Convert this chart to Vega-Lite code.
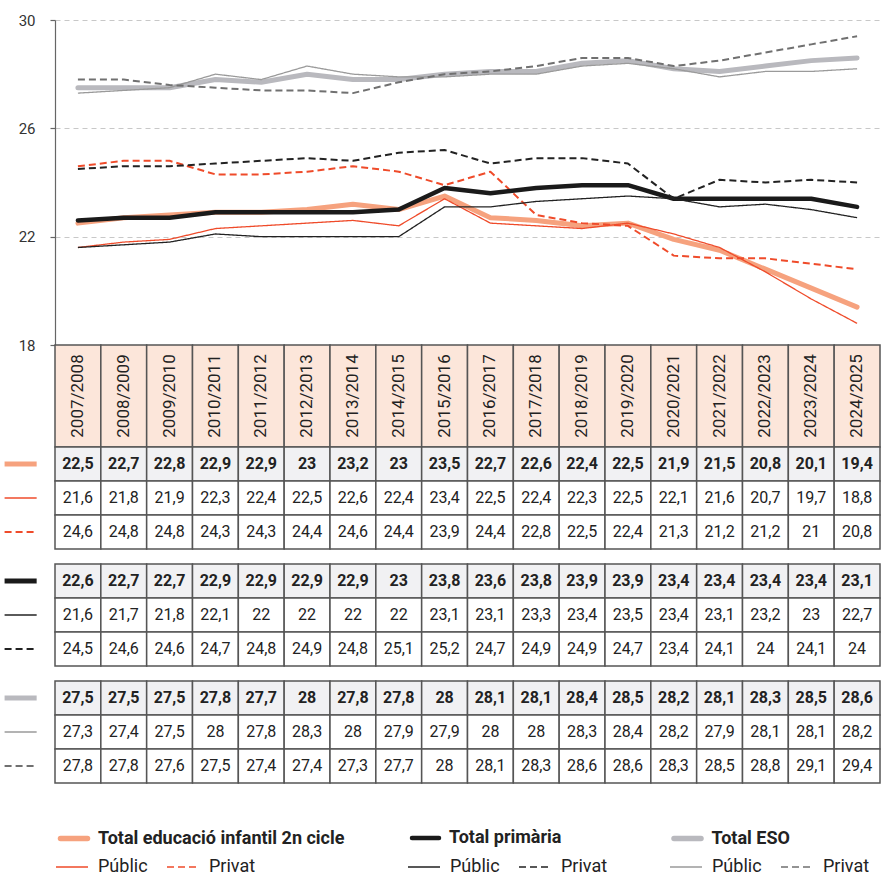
{
  "$schema": "https://vega.github.io/schema/vega-lite/v6.json",
  "padding": {"left": 2, "top": 13, "right": 0, "bottom": 0},
  "background": "white",
  "datasets": {
    "cursos": [
      {"curs": "2007/2008", "inici": 2007, "fi": 2008, "inf_t": 22.5, "inf_pu": 21.6, "inf_pr": 24.6, "pri_t": 22.6, "pri_pu": 21.6, "pri_pr": 24.5, "eso_t": 27.5, "eso_pu": 27.3, "eso_pr": 27.8},
      {"curs": "2008/2009", "inici": 2008, "fi": 2009, "inf_t": 22.7, "inf_pu": 21.8, "inf_pr": 24.8, "pri_t": 22.7, "pri_pu": 21.7, "pri_pr": 24.6, "eso_t": 27.5, "eso_pu": 27.4, "eso_pr": 27.8},
      {"curs": "2009/2010", "inici": 2009, "fi": 2010, "inf_t": 22.8, "inf_pu": 21.9, "inf_pr": 24.8, "pri_t": 22.7, "pri_pu": 21.8, "pri_pr": 24.6, "eso_t": 27.5, "eso_pu": 27.5, "eso_pr": 27.6},
      {"curs": "2010/2011", "inici": 2010, "fi": 2011, "inf_t": 22.9, "inf_pu": 22.3, "inf_pr": 24.3, "pri_t": 22.9, "pri_pu": 22.1, "pri_pr": 24.7, "eso_t": 27.8, "eso_pu": 28, "eso_pr": 27.5},
      {"curs": "2011/2012", "inici": 2011, "fi": 2012, "inf_t": 22.9, "inf_pu": 22.4, "inf_pr": 24.3, "pri_t": 22.9, "pri_pu": 22, "pri_pr": 24.8, "eso_t": 27.7, "eso_pu": 27.8, "eso_pr": 27.4},
      {"curs": "2012/2013", "inici": 2012, "fi": 2013, "inf_t": 23, "inf_pu": 22.5, "inf_pr": 24.4, "pri_t": 22.9, "pri_pu": 22, "pri_pr": 24.9, "eso_t": 28, "eso_pu": 28.3, "eso_pr": 27.4},
      {"curs": "2013/2014", "inici": 2013, "fi": 2014, "inf_t": 23.2, "inf_pu": 22.6, "inf_pr": 24.6, "pri_t": 22.9, "pri_pu": 22, "pri_pr": 24.8, "eso_t": 27.8, "eso_pu": 28, "eso_pr": 27.3},
      {"curs": "2014/2015", "inici": 2014, "fi": 2015, "inf_t": 23, "inf_pu": 22.4, "inf_pr": 24.4, "pri_t": 23, "pri_pu": 22, "pri_pr": 25.1, "eso_t": 27.8, "eso_pu": 27.9, "eso_pr": 27.7},
      {"curs": "2015/2016", "inici": 2015, "fi": 2016, "inf_t": 23.5, "inf_pu": 23.4, "inf_pr": 23.9, "pri_t": 23.8, "pri_pu": 23.1, "pri_pr": 25.2, "eso_t": 28, "eso_pu": 27.9, "eso_pr": 28},
      {"curs": "2016/2017", "inici": 2016, "fi": 2017, "inf_t": 22.7, "inf_pu": 22.5, "inf_pr": 24.4, "pri_t": 23.6, "pri_pu": 23.1, "pri_pr": 24.7, "eso_t": 28.1, "eso_pu": 28, "eso_pr": 28.1},
      {"curs": "2017/2018", "inici": 2017, "fi": 2018, "inf_t": 22.6, "inf_pu": 22.4, "inf_pr": 22.8, "pri_t": 23.8, "pri_pu": 23.3, "pri_pr": 24.9, "eso_t": 28.1, "eso_pu": 28, "eso_pr": 28.3},
      {"curs": "2018/2019", "inici": 2018, "fi": 2019, "inf_t": 22.4, "inf_pu": 22.3, "inf_pr": 22.5, "pri_t": 23.9, "pri_pu": 23.4, "pri_pr": 24.9, "eso_t": 28.4, "eso_pu": 28.3, "eso_pr": 28.6},
      {"curs": "2019/2020", "inici": 2019, "fi": 2020, "inf_t": 22.5, "inf_pu": 22.5, "inf_pr": 22.4, "pri_t": 23.9, "pri_pu": 23.5, "pri_pr": 24.7, "eso_t": 28.5, "eso_pu": 28.4, "eso_pr": 28.6},
      {"curs": "2020/2021", "inici": 2020, "fi": 2021, "inf_t": 21.9, "inf_pu": 22.1, "inf_pr": 21.3, "pri_t": 23.4, "pri_pu": 23.4, "pri_pr": 23.4, "eso_t": 28.2, "eso_pu": 28.2, "eso_pr": 28.3},
      {"curs": "2021/2022", "inici": 2021, "fi": 2022, "inf_t": 21.5, "inf_pu": 21.6, "inf_pr": 21.2, "pri_t": 23.4, "pri_pu": 23.1, "pri_pr": 24.1, "eso_t": 28.1, "eso_pu": 27.9, "eso_pr": 28.5},
      {"curs": "2022/2023", "inici": 2022, "fi": 2023, "inf_t": 20.8, "inf_pu": 20.7, "inf_pr": 21.2, "pri_t": 23.4, "pri_pu": 23.2, "pri_pr": 24, "eso_t": 28.3, "eso_pu": 28.1, "eso_pr": 28.8},
      {"curs": "2023/2024", "inici": 2023, "fi": 2024, "inf_t": 20.1, "inf_pu": 19.7, "inf_pr": 21, "pri_t": 23.4, "pri_pu": 23, "pri_pr": 24.1, "eso_t": 28.5, "eso_pu": 28.1, "eso_pr": 29.1},
      {"curs": "2024/2025", "inici": 2024, "fi": 2025, "inf_t": 19.4, "inf_pu": 18.8, "inf_pr": 20.8, "pri_t": 23.1, "pri_pu": 22.7, "pri_pr": 24, "eso_t": 28.6, "eso_pu": 28.2, "eso_pr": 29.4}
    ],
    "series": [
      {"key": "inf_t", "grp": "inf", "kind": "total", "nom": "Total educació infantil 2n cicle"},
      {"key": "inf_pu", "grp": "inf", "kind": "pub", "nom": "Públic"},
      {"key": "inf_pr", "grp": "inf", "kind": "priv", "nom": "Privat"},
      {"key": "pri_t", "grp": "pri", "kind": "total", "nom": "Total primària"},
      {"key": "pri_pu", "grp": "pri", "kind": "pub", "nom": "Públic"},
      {"key": "pri_pr", "grp": "pri", "kind": "priv", "nom": "Privat"},
      {"key": "eso_t", "grp": "eso", "kind": "total", "nom": "Total ESO"},
      {"key": "eso_pu", "grp": "eso", "kind": "pub", "nom": "Públic"},
      {"key": "eso_pr", "grp": "eso", "kind": "priv", "nom": "Privat"}
    ]
  },
  "data": {"name": "cursos"},
  "transform": [
    {"fold": ["inf_t", "inf_pu", "inf_pr", "pri_t", "pri_pu", "pri_pr", "eso_t", "eso_pu", "eso_pr"], "as": ["key", "value"]},
    {"lookup": "key", "from": {"data": {"name": "series"}, "key": "key", "fields": ["grp", "kind", "nom"]}}
  ],
  "spacing": 0,
  "bounds": "flush",
  "vconcat": [
    {
      "width": 825,
      "height": 325,
      "encoding": {
        "x": {"field": "inici", "type": "quantitative", "scale": {"domain": [2006.5, 2024.5], "nice": false, "zero": false}, "axis": null},
        "y": {"field": "value", "type": "quantitative", "scale": {"domain": [18, 30], "nice": false, "zero": false},
          "axis": {"values": [18, 22, 26, 30], "title": null, "grid": true, "gridDash": [5, 4], "gridColor": "#c8c8c8", "gridWidth": 1, "domainColor": "#666666", "domainWidth": 1.2, "tickColor": "#666666", "tickSize": 5, "tickWidth": 1.2, "labelPadding": 15, "labelFontSize": 15, "labelColor": "#333333", "labelFont": "Roboto"}}
      },
      "layer": [
        {
          "transform": [{"filter": "datum.key === 'inf_t'"}],
          "mark": {"type": "line", "strokeWidth": 5, "strokeCap": "round", "strokeJoin": "round"},
          "encoding": {
            "color": {"field": "nom", "type": "nominal", "scale": {"domain": ["Total educació infantil 2n cicle"], "range": ["#f6a27e"]},
              "legend": {"orient": "none", "legendX": 2.5, "legendY": 802, "title": null, "direction": "horizontal", "symbolType": "stroke", "symbolSize": 729, "symbolStrokeWidth": 5.5, "labelFontSize": 18, "labelFontWeight": "bold", "labelColor": "#222222", "labelOffset": 7.5, "labelLimit": 500, "padding": 0, "encode": {"symbols": {"update": {"strokeCap": {"value": "round"}}}}}}
          }
        },
        {
          "transform": [{"filter": "datum.grp === 'inf' && datum.kind !== 'total'"}],
          "mark": {"type": "line", "strokeJoin": "round"},
          "encoding": {
            "color": {"field": "nom", "type": "nominal", "scale": {"domain": ["Públic", "Privat"], "range": ["#ef4b2a", "#ef4b2a"]},
              "legend": {"orient": "none", "legendX": 0, "legendY": 830, "title": null, "direction": "horizontal", "symbolType": "stroke", "symbolSize": 1024, "symbolStrokeWidth": 1.6, "labelFontSize": 18, "labelColor": "#222222", "labelOffset": 9, "columnPadding": 15, "labelLimit": 300, "padding": 0}},
            "strokeDash": {"field": "nom", "type": "nominal", "scale": {"domain": ["Públic", "Privat"], "range": [[1, 0], [7, 4]]},
              "legend": {"orient": "none", "legendX": 0, "legendY": 830, "title": null, "direction": "horizontal", "symbolType": "stroke", "symbolSize": 1024, "symbolStrokeWidth": 1.6, "labelFontSize": 18, "labelColor": "#222222", "labelOffset": 9, "columnPadding": 15, "labelLimit": 300, "padding": 0}},
            "strokeWidth": {"condition": {"test": "datum.kind === 'priv'", "value": 2}, "value": 1.3}
          }
        },
        {
          "transform": [{"filter": "datum.key === 'pri_t'"}],
          "mark": {"type": "line", "strokeWidth": 4.5, "strokeCap": "round", "strokeJoin": "round"},
          "encoding": {
            "color": {"field": "nom", "type": "nominal", "scale": {"domain": ["Total primària"], "range": ["#1a1a1a"]},
              "legend": {"orient": "none", "legendX": 354.5, "legendY": 802, "title": null, "direction": "horizontal", "symbolType": "stroke", "symbolSize": 729, "symbolStrokeWidth": 4.5, "labelFontSize": 18, "labelFontWeight": "bold", "labelColor": "#222222", "labelOffset": 7.5, "labelLimit": 500, "padding": 0, "encode": {"symbols": {"update": {"strokeCap": {"value": "round"}}}}}}
          }
        },
        {
          "transform": [{"filter": "datum.grp === 'pri' && datum.kind !== 'total'"}],
          "mark": {"type": "line", "strokeJoin": "round"},
          "encoding": {
            "color": {"field": "nom", "type": "nominal", "scale": {"domain": ["Públic", "Privat"], "range": ["#222222", "#222222"]},
              "legend": {"orient": "none", "legendX": 352, "legendY": 830, "title": null, "direction": "horizontal", "symbolType": "stroke", "symbolSize": 1024, "symbolStrokeWidth": 1.6, "labelFontSize": 18, "labelColor": "#222222", "labelOffset": 9, "columnPadding": 15, "labelLimit": 300, "padding": 0}},
            "strokeDash": {"field": "nom", "type": "nominal", "scale": {"domain": ["Públic", "Privat"], "range": [[1, 0], [7, 4]]},
              "legend": {"orient": "none", "legendX": 352, "legendY": 830, "title": null, "direction": "horizontal", "symbolType": "stroke", "symbolSize": 1024, "symbolStrokeWidth": 1.6, "labelFontSize": 18, "labelColor": "#222222", "labelOffset": 9, "columnPadding": 15, "labelLimit": 300, "padding": 0}},
            "strokeWidth": {"condition": {"test": "datum.kind === 'priv'", "value": 2}, "value": 1.3}
          }
        },
        {
          "transform": [{"filter": "datum.key === 'eso_t'"}],
          "mark": {"type": "line", "strokeWidth": 5, "strokeCap": "round", "strokeJoin": "round"},
          "encoding": {
            "color": {"field": "nom", "type": "nominal", "scale": {"domain": ["Total ESO"], "range": ["#b9b9be"]},
              "legend": {"orient": "none", "legendX": 616, "legendY": 802, "title": null, "direction": "horizontal", "symbolType": "stroke", "symbolSize": 729, "symbolStrokeWidth": 5.5, "labelFontSize": 18, "labelFontWeight": "bold", "labelColor": "#222222", "labelOffset": 7.5, "labelLimit": 500, "padding": 0, "encode": {"symbols": {"update": {"strokeCap": {"value": "round"}}}}}}
          }
        },
        {
          "transform": [{"filter": "datum.grp === 'eso' && datum.kind !== 'total'"}],
          "mark": {"type": "line", "strokeJoin": "round"},
          "encoding": {
            "color": {"field": "nom", "type": "nominal", "scale": {"domain": ["Públic", "Privat"], "range": ["#9a9a9a", "#707070"]},
              "legend": {"orient": "none", "legendX": 614, "legendY": 830, "title": null, "direction": "horizontal", "symbolType": "stroke", "symbolSize": 1024, "symbolStrokeWidth": 1.6, "labelFontSize": 18, "labelColor": "#222222", "labelOffset": 9, "columnPadding": 15, "labelLimit": 300, "padding": 0}},
            "strokeDash": {"field": "nom", "type": "nominal", "scale": {"domain": ["Públic", "Privat"], "range": [[1, 0], [7, 4]]},
              "legend": {"orient": "none", "legendX": 614, "legendY": 830, "title": null, "direction": "horizontal", "symbolType": "stroke", "symbolSize": 1024, "symbolStrokeWidth": 1.6, "labelFontSize": 18, "labelColor": "#222222", "labelOffset": 9, "columnPadding": 15, "labelLimit": 300, "padding": 0}},
            "strokeWidth": {"condition": {"test": "datum.kind === 'priv'", "value": 2}, "value": 1.3}
          }
        }
      ],
      "resolve": {
        "scale": {"color": "independent", "strokeDash": "independent"},
        "legend": {"color": "independent", "strokeDash": "independent"}
      }
    },
    {
      "width": 825,
      "height": 102,
      "transform": [{"filter": "datum.key === 'inf_t'"}],
      "layer": [
        {
          "mark": {"type": "rect", "fill": "#fce6da", "stroke": "#555555", "strokeWidth": 1.5},
          "encoding": {
            "x": {"field": "inici", "type": "quantitative", "scale": {"domain": [2007, 2025], "nice": false, "zero": false}, "axis": null},
            "x2": {"field": "fi"}
          }
        },
        {
          "mark": {"type": "text", "angle": 270, "fontSize": 17, "color": "#222222", "align": "center", "baseline": "middle"},
          "encoding": {
            "x": {"field": "inici", "type": "quantitative", "scale": {"domain": [2006.5, 2024.5], "nice": false, "zero": false}, "axis": null},
            "text": {"field": "curs", "type": "nominal"}
          }
        }
      ],
      "resolve": {"scale": {"x": "independent"}}
    },
    {
      "facet": {"row": {"field": "grp", "type": "nominal", "sort": ["inf", "pri", "eso"], "header": {"title": null, "labels": false}}},
      "spacing": 15,
      "bounds": "flush",
      "spec": {
        "width": 825,
        "height": 102,
        "layer": [
          {
            "mark": {"type": "rect", "stroke": "#555555", "strokeWidth": 1.5},
            "encoding": {
              "x": {"field": "inici", "type": "quantitative", "scale": {"domain": [2007, 2025], "nice": false, "zero": false}, "axis": null},
              "x2": {"field": "fi"},
              "y": {"field": "kind", "type": "nominal", "scale": {"domain": ["total", "pub", "priv"], "paddingInner": 0, "paddingOuter": 0}, "axis": null},
              "fill": {"condition": {"test": "datum.kind === 'total'", "value": "#f1f1f3"}, "value": "#ffffff"}
            }
          },
          {
            "transform": [{"filter": "datum.kind !== 'total'"}],
            "mark": {"type": "text", "fontSize": 16, "color": "#222222", "baseline": "middle", "align": "center"},
            "encoding": {
              "x": {"field": "inici", "type": "quantitative", "scale": {"domain": [2006.5, 2024.5], "nice": false, "zero": false}, "axis": null},
              "y": {"field": "kind", "type": "nominal", "bandPosition": 0.5, "axis": null},
              "text": {"field": "value", "type": "quantitative", "format": ".1~f"}
            }
          },
          {
            "transform": [{"filter": "datum.kind === 'total'"}],
            "mark": {"type": "text", "fontSize": 16, "fontWeight": "bold", "color": "#222222", "baseline": "middle", "align": "center"},
            "encoding": {
              "x": {"field": "inici", "type": "quantitative", "scale": {"domain": [2006.5, 2024.5], "nice": false, "zero": false}, "axis": null},
              "y": {"field": "kind", "type": "nominal", "bandPosition": 0.5, "axis": null},
              "text": {"field": "value", "type": "quantitative", "format": ".1~f"}
            }
          },
          {
            "transform": [{"filter": "datum.inici === 2007"}],
            "mark": {"type": "rule", "strokeCap": "butt"},
            "encoding": {
              "x": {"datum": 2005.9, "type": "quantitative", "scale": {"domain": [2007, 2025], "nice": false, "zero": false}, "axis": null},
              "x2": {"datum": 2006.6},
              "y": {"field": "kind", "type": "nominal", "bandPosition": 0.5, "axis": null},
              "color": {"condition": [
                {"test": "datum.key === 'inf_t'", "value": "#f6a27e"},
                {"test": "datum.grp === 'inf'", "value": "#ef4b2a"},
                {"test": "datum.key === 'pri_t'", "value": "#1a1a1a"},
                {"test": "datum.grp === 'pri'", "value": "#222222"},
                {"test": "datum.key === 'eso_t'", "value": "#b9b9be"},
                {"test": "datum.key === 'eso_pu'", "value": "#9a9a9a"}
              ], "value": "#707070"},
              "strokeWidth": {"condition": [
                {"test": "datum.kind === 'total'", "value": 5},
                {"test": "datum.kind === 'priv'", "value": 2}
              ], "value": 1.3},
              "strokeDash": {"condition": {"test": "datum.kind === 'priv'", "value": [7, 4]}, "value": [1, 0]}
            }
          }
        ],
        "resolve": {"scale": {"x": "independent"}}
      }
    }
  ],
  "config": {
    "font": "Roboto",
    "view": {"stroke": null},
    "locale": {"number": {"decimal": ",", "thousands": ".", "grouping": [3], "currency": ["", " €"]}}
  }
}
